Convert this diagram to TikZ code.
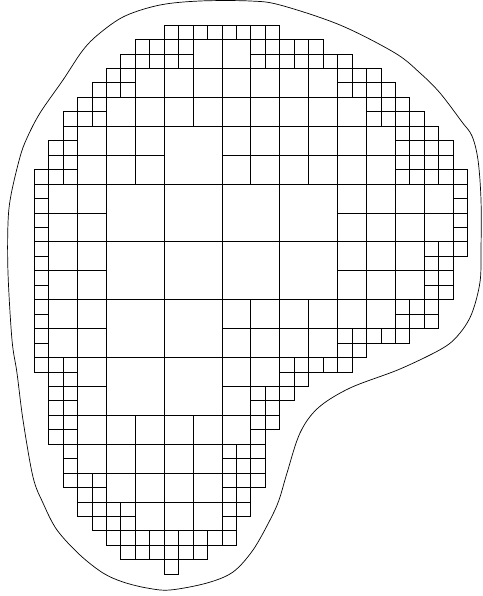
\documentclass[tikz,border=0pt]{standalone}

\tikzset{
  cell/.style={line width=0.6pt},
  rim/.style={line width=0.7pt}
}

\begin{document}
\begin{tikzpicture}[x=1pt,y=-1pt]
\useasboundingbox (0,0) rectangle (482,596);
% outer curve
\draw[rim] plot[smooth cycle,tension=0.55] coordinates {
  (83,50) (100,33) (125,16) (160,5) (200,1) (250,1) (280,5) (340,25)
  (395,53) (420,73) (440,93) (462,122) (472,136) (478,160) (481,200)
  (481,250) (480,282) (472,313) (460,333) (443,348) (400,369) (350,388)
  (318,408) (300,433) (287,473) (279,500) (270,520) (253,550) (233,572)
  (207,583) (170,590) (147,588) (123,582) (103,573) (80,555) (57,530)
  (43,503) (33,477) (23,420) (17,373) (12,340) (8,273) (8,223) (11,195)
  (20,157) (27,138) (40,113) (63,80)};
% squares
\begin{scope}[shift={(34,25)},x=14.45pt,y=-14.45pt]
% small
\foreach \j/\row in {
  0/{9,10,11,12,13,14,15,16},
  1/{7,8,9,10,15,16,17,18,19},
  2/{6,7,8,9,10,15,16,17,18,19,20,21},
  3/{5,6,21,22,23},
  4/{4,5,6,21,22,23,24},
  5/{3,4,23,24,25},
  6/{2,3,4,23,24,25,26},
  7/{2,25,26,27},
  8/{1,2,25,26,27,28},
  9/{1,2,25,26,27,28},
  10/{0,1,2,25,26,27,28,29},
  11/{0,29}, 12/{0,29}, 13/{0,29}, 14/{0,29},
  15/{0,27,28,29},
  16/{0,27,28}, 17/{0,27,28}, 18/{0,27,28},
  19/{0,25,26,27}, 20/{0,25,26,27},
  21/{0,21,22,23,24,25},
  22/{0,21,22},
  23/{0,1,2,17,18,19,20,21},
  24/{1,2,17,18},
  25/{1,2,15,16,17},
  26/{1,2,15,16}, 27/{1,2,15,16},
  28/{1,2,15},
  29/{2,13,14,15}, 30/{2,13,14,15},
  31/{2,3,4,13,14,15},
  32/{3,4,13,14},
  33/{3,4,5,6,13,14},
  34/{4,5,6,13},
  35/{5,6,7,8,9,10,11,12,13},
  36/{6,7,8,9,10,11},
  37/{9}}
  \foreach \i in \row
    \draw[cell] (\i,\j) rectangle +(1,1);
% medium
\foreach \j/\row in {
  1/{11,13},
  3/{7,9,11,13,15,17,19},
  5/{5,7,9,11,13,15,17,19,21},
  7/{3,5,7,13,15,17,19,21,23},
  9/{3,5,7,13,15,17,19,21,23},
  11/{1,3,21,23,25,27}, 13/{1,3,21,23,25,27},
  15/{1,3,21,23,25}, 17/{1,3,21,23,25},
  19/{1,3,13,15,17,19,21,23},
  21/{1,3,13,15,17,19},
  23/{3,13,15},
  25/{3,13},
  27/{3,5,7,9,11,13},
  29/{3,5,7,9,11},
  31/{5,7,9,11},
  33/{7,9,11}}
  \foreach \i in \row
    \draw[cell] (\i,\j) rectangle +(2,2);
% big
\foreach \i/\j in {9/7,5/11,9/11,13/11,17/11,5/15,9/15,13/15,17/15,5/19,9/19,5/23,9/23}
  \draw[cell] (\i,\j) rectangle +(4,4);
\end{scope}
\end{tikzpicture}
\end{document}
